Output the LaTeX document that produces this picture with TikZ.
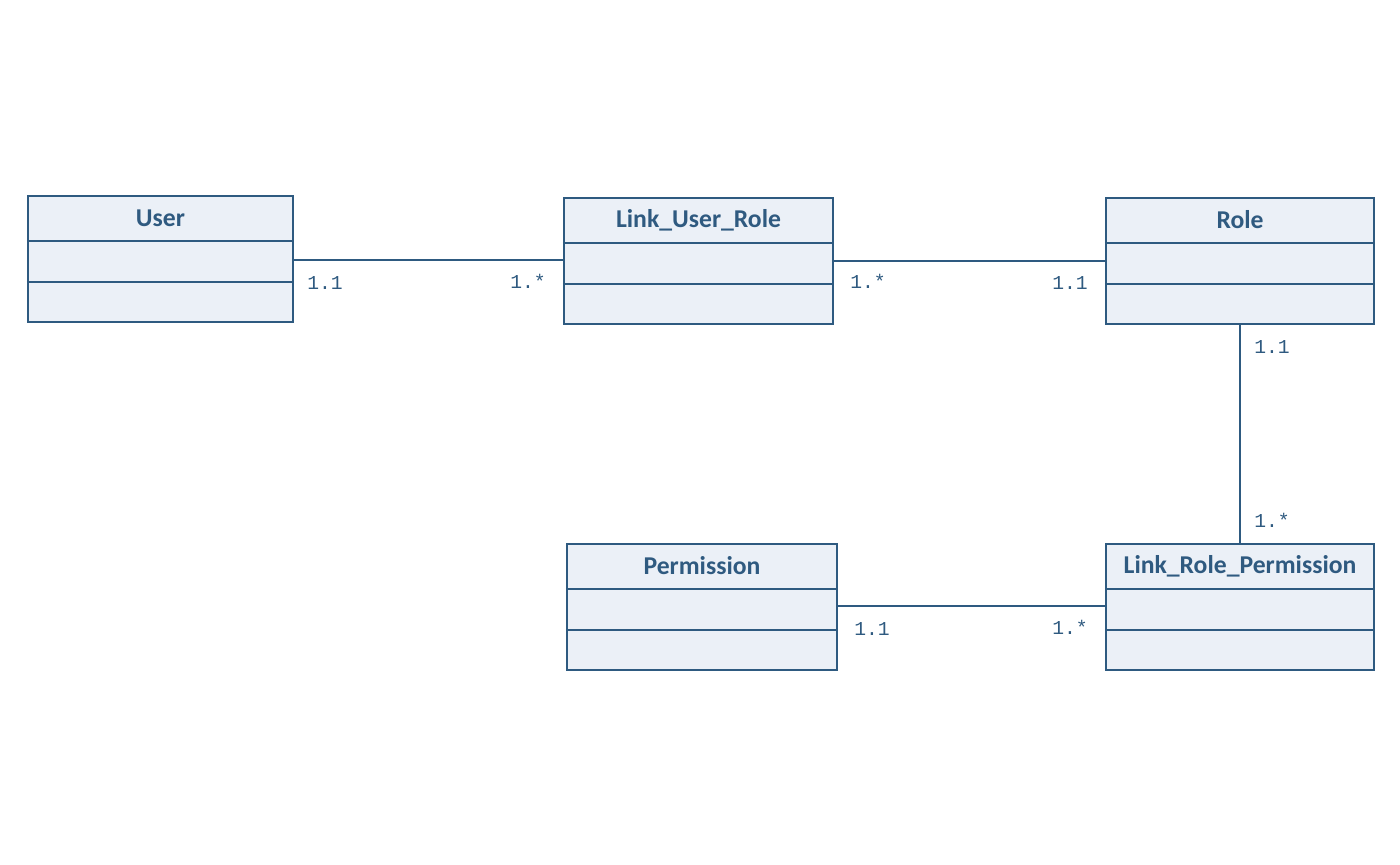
\documentclass[tikz,border=0pt]{standalone}
\usepackage{fontspec}
\setmainfont{Carlito}
\newfontfamily\monofam{Liberation Mono}
\usetikzlibrary{fit,calc}
\definecolor{umlline}{HTML}{2E5A80}
\definecolor{umlfill}{HTML}{EBF0F7}
\definecolor{umltext}{HTML}{2F5A80}
\tikzset{
  cls/.style={draw=umlline, fill=umlfill, line width=0.6pt, inner sep=0pt, rectangle},
  divider/.style={draw=umlline, line width=0.6pt},
  ttl/.style={text=umltext, font=\fontsize{7.3}{8.5}\selectfont\bfseries, inner sep=0pt},
  conn/.style={draw=umlline, line width=0.6pt},
  mult/.style={text=umltext, font=\fontsize{5.6}{6.5}\selectfont\monofam, inner sep=0pt}
}
\newcommand{\umlclass}[8]{%
  \node[cls, fit={(#2,#3)(#4,#5)}] (#1) {};
  \draw[divider] (#1.west |- 0,#6) -- (#1.east |- 0,#6);
  \draw[divider] (#1.west |- 0,#7) -- (#1.east |- 0,#7);
  \node[ttl] (#1-title) at ($(#1.north)!0.5!(#1.north |- 0,#6)$) {#8};
}
\begin{document}
\begin{tikzpicture}[x=0.01cm, y=-0.01cm]
\useasboundingbox (0,0) rectangle (1400,865);
\umlclass{user}{28}{196}{293}{322}{241}{282}{User}
\umlclass{lur}{564}{198}{833}{324}{243}{284}{Link\_User\_Role}
\umlclass{role}{1106}{198}{1374}{324}{243}{284}{Role}
\umlclass{perm}{567}{544}{837}{670}{589}{630}{Permission}
\umlclass{lrp}{1106}{544}{1374}{670}{589}{630}{Link\_Role\_Permission}

\draw[conn] (user.east |- 0,260) -- (lur.west |- 0,260);
\draw[conn] (lur.east |- 0,261) -- (role.west |- 0,261);
\draw[conn] (role.south -| 1240,0) -- (lrp.north -| 1240,0);
\draw[conn] (perm.east |- 0,606) -- (lrp.west |- 0,606);

\node[mult] (m1) at (325,283) {1.1};
\node[mult] (m2) at (528,281) {1.*};
\node[mult] (m3) at (868,281) {1.*};
\node[mult] (m4) at (1070,283) {1.1};
\node[mult] (m5) at (1272,347) {1.1};
\node[mult] (m6) at (1272,520) {1.*};
\node[mult] (m7) at (872,629) {1.1};
\node[mult] (m8) at (1070,627) {1.*};
\end{tikzpicture}
\end{document}
